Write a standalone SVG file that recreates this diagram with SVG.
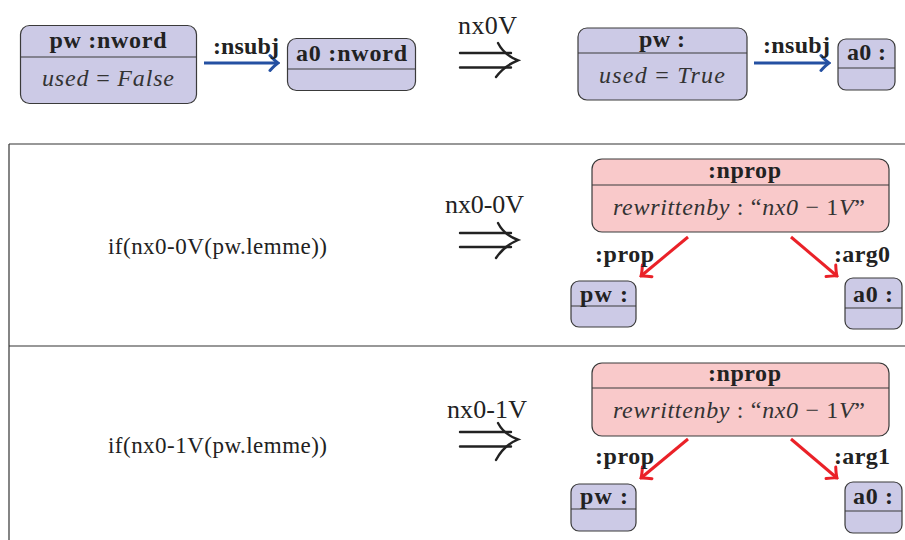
<svg xmlns="http://www.w3.org/2000/svg" width="905" height="540" viewBox="0 0 905 540">
<style>
.box{fill:#cccae6;stroke:#3a3a3a;stroke-width:1.2}
.pbox{fill:#f9c9ca;stroke:#3a3a3a;stroke-width:1.2}
.div{stroke:#3a3a3a;stroke-width:1.2}
.t{font-family:"Liberation Serif","DejaVu Serif",serif;font-weight:bold;font-size:24px;fill:#222;text-anchor:middle}
.a{font-family:"Liberation Serif","DejaVu Serif",serif;font-style:italic;font-size:24px;fill:#333;text-anchor:middle}
.up{font-style:normal}
.lbl{font-family:"Liberation Serif","DejaVu Serif",serif;font-weight:bold;font-size:24px;fill:#222}
.big{font-family:"Liberation Serif","DejaVu Serif",serif;font-size:26px;fill:#222}
.cond{font-family:"Liberation Serif","DejaVu Serif",serif;font-size:23px;fill:#222}
.frame{stroke:#333;stroke-width:1.2;fill:none}
.blue{stroke:#2450a2;stroke-width:3;fill:none}
.red{stroke:#ea2128;stroke-width:3;fill:none}
.imp{stroke:#222;stroke-width:2.4;fill:none;stroke-linecap:round}
</style>
<defs>
<marker id="hb" viewBox="-12 -10 14 20" refX="0" refY="0" markerWidth="14" markerHeight="20" markerUnits="userSpaceOnUse" orient="auto">
<path d="M-8,-7.5 Q-3,-2 0,0 Q-3,2 -8,7.5" stroke="#2450a2" stroke-width="3" fill="none" stroke-linecap="round"/>
</marker>
<marker id="hr" viewBox="-12 -10 14 20" refX="0" refY="0" markerWidth="14" markerHeight="20" markerUnits="userSpaceOnUse" orient="auto">
<path d="M-8,-7.5 Q-3,-2 0,0 Q-3,2 -8,7.5" stroke="#ea2128" stroke-width="3" fill="none" stroke-linecap="round"/>
</marker>
</defs>

<g id="frame">
<line class="frame" x1="9" y1="144" x2="905" y2="144"/>
<line class="frame" x1="9" y1="144" x2="9" y2="540"/>
<line class="frame" x1="9" y1="346" x2="905" y2="346"/>
</g>

<!-- top row -->
<g id="n1">
<rect class="box" x="20.5" y="25.5" width="176" height="78" rx="9"/>
<line class="div" x1="20.5" y1="57" x2="196.5" y2="57"/>
<text class="t" x="108" y="48" textLength="117">pw :nword</text>
<text class="a" x="108" y="86" textLength="132">used <tspan class="up">=</tspan> False</text>
</g>
<g id="n2">
<rect class="box" x="287.5" y="38.5" width="128" height="52" rx="9"/>
<line class="div" x1="287.5" y1="69" x2="415.5" y2="69"/>
<text class="t" x="351.5" y="61" textLength="111">a0 :nword</text>
</g>
<g id="n3">
<rect class="box" x="578" y="28" width="169" height="72" rx="9"/>
<line class="div" x1="578" y1="53" x2="747" y2="53"/>
<text class="t" x="662" y="47" textLength="46">pw :</text>
<text class="a" x="662" y="83" textLength="126">used <tspan class="up">=</tspan> True</text>
</g>
<g id="n4">
<rect class="box" x="838" y="39" width="57" height="51" rx="8"/>
<line class="div" x1="838" y1="68" x2="895" y2="68"/>
<text class="t" x="866.5" y="60" textLength="39">a0 :</text>
</g>

<!-- middle row -->
<g id="n5">
<rect class="pbox" x="592" y="159" width="297" height="73" rx="10"/>
<line class="div" x1="592" y1="185" x2="889" y2="185"/>
<text class="t" x="744.5" y="178" textLength="73">:nprop</text>
<text class="a" x="739" y="215" textLength="252">rewrittenby<tspan class="up"> : “</tspan>nx0<tspan class="up"> − 1</tspan>V<tspan class="up">”</tspan></text>
</g>
<g id="n6">
<rect class="box" x="571" y="281" width="65" height="46" rx="8"/>
<line class="div" x1="571" y1="306" x2="636" y2="306"/>
<text class="t" x="604" y="302" textLength="48">pw :</text>
</g>
<g id="n7">
<rect class="box" x="845" y="278" width="57" height="51" rx="8"/>
<line class="div" x1="845" y1="308" x2="902" y2="308"/>
<text class="t" x="873" y="302" textLength="40">a0 :</text>
</g>

<!-- bottom row -->
<g id="n8">
<rect class="pbox" x="592" y="363" width="297" height="73" rx="10"/>
<line class="div" x1="592" y1="388" x2="889" y2="388"/>
<text class="t" x="744.5" y="381" textLength="73">:nprop</text>
<text class="a" x="739" y="418" textLength="252">rewrittenby<tspan class="up"> : “</tspan>nx0<tspan class="up"> − 1</tspan>V<tspan class="up">”</tspan></text>
</g>
<g id="n9">
<rect class="box" x="571" y="484" width="65" height="47" rx="8"/>
<line class="div" x1="571" y1="509" x2="636" y2="509"/>
<text class="t" x="604" y="504" textLength="48">pw :</text>
</g>
<g id="n10">
<rect class="box" x="845" y="482" width="57" height="51" rx="8"/>
<line class="div" x1="845" y1="511" x2="902" y2="511"/>
<text class="t" x="873" y="504" textLength="40">a0 :</text>
</g>

<!-- texts -->
<g id="texts">
<text class="big" x="458" y="34" textLength="59">nx0V</text>
<text class="big" x="445" y="213" textLength="79">nx0-0V</text>
<text class="big" x="447" y="418" textLength="80">nx0-1V</text>
<text class="cond" x="108" y="254" textLength="219">if(nx0-0V(pw.lemme))</text>
<text class="cond" x="108" y="453" textLength="219">if(nx0-1V(pw.lemme))</text>
</g>

<g id="connectors">
<line class="blue" x1="204" y1="63" x2="278" y2="63" marker-end="url(#hb)"/>
<text class="lbl" x="213" y="54" textLength="66">:nsubj</text>
<line class="blue" x1="754" y1="63" x2="829" y2="63" marker-end="url(#hb)"/>
<text class="lbl" x="763" y="53" textLength="67">:nsubj</text>

<line class="red" x1="688" y1="237" x2="641" y2="276" marker-end="url(#hr)"/>
<line class="red" x1="791" y1="237" x2="837" y2="276" marker-end="url(#hr)"/>
<text class="lbl" x="595" y="262" textLength="59">:prop</text>
<text class="lbl" x="834" y="262" textLength="56">:arg0</text>

<line class="red" x1="688" y1="439" x2="641" y2="478" marker-end="url(#hr)"/>
<line class="red" x1="791" y1="439" x2="837" y2="478" marker-end="url(#hr)"/>
<text class="lbl" x="595" y="464" textLength="59">:prop</text>
<text class="lbl" x="834" y="464" textLength="56">:arg1</text>

<g id="imp1">
<path class="imp" d="M460,53 L511,53 M460,67.5 L511,67.5"/>
<path class="imp" d="M498,43 Q504,55 518,60.3 Q504,66 496,77"/>
</g>
<g id="imp2">
<path class="imp" d="M460,233 L511,233 M460,247 L511,247"/>
<path class="imp" d="M498,223 Q504,235 518,240 Q504,246 496,258"/>
</g>
<g id="imp3">
<path class="imp" d="M460,432 L511,432 M460,446.5 L511,446.5"/>
<path class="imp" d="M498,423 Q504,434.5 518,439.5 Q504,445 496,460"/>
</g>
</g>
</svg>
